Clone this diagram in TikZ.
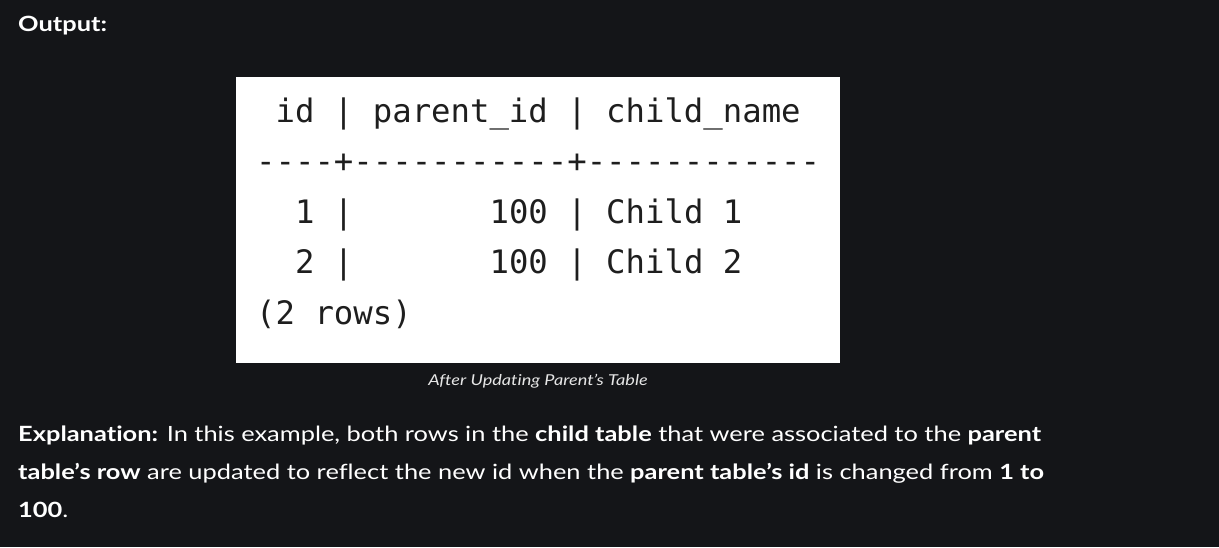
\documentclass[tikz,border=0pt]{standalone}
\usepackage{fontspec}
\setmainfont{Lato}[FakeStretch=1.21, Ligatures={NoCommon}]
\newfontfamily\codefont{DejaVu Sans Mono}
\definecolor{pagebg}{HTML}{141518}
\definecolor{pagetext}{HTML}{FFFFFF}
\definecolor{captext}{HTML}{E6E6E6}
\definecolor{codetext}{HTML}{1E1E1E}
\tikzset{
  textline/.style={anchor=base west, inner sep=0pt, text=pagetext, font=\fontsize{21}{24}\selectfont},
  codeline/.style={anchor=base west, inner sep=0pt, text=codetext, font=\codefont\fontsize{32.3}{36}\selectfont},
}
\begin{document}
\begin{tikzpicture}[x=1pt,y=-1pt]
                    % Page background
                    \fill [pagebg] (0,0) rectangle (1219,547);%
                    \useasboundingbox (0,0) rectangle (1219,547);%

                    % Marking heading
                    \node [textline, font=\bfseries\fontsize{21}{24}\selectfont] (heading) at (18,31) {Output:};%

                    % Drawing output box
                    \fill [white] (236,77) rectangle (840,363);%

                    % Marking header row
                    \node [codeline] (header) at (256,122) {\ id | parent\_id | child\_name};%

                    % Marking rule row
                    \node [codeline] (rule) at (256,172.5) {----+-----------+------------};%

                    % Marking row 1
                    \node [codeline] (rowa) at (256,223) {\ \ 1 |\ \ \ \ \ \ \ 100 | Child 1};%

                    % Marking row 2
                    \node [codeline] (rowb) at (256,273.5) {\ \ 2 |\ \ \ \ \ \ \ 100 | Child 2};%

                    % Marking row count
                    \node [codeline] (count) at (256,324) {(2 rows)};%

                    % Marking caption
                    \node [anchor=base, inner sep=0pt, text=captext, font=\itshape\fontsize{15}{18}\selectfont] (caption) at (538,385) {After Updating Parent’s Table};%

                    % Marking explanation lines
                    \node [textline] (linea) at (18,441) {\textbf{Explanation:} In this example, both rows in the \textbf{child table} that were associated to the \textbf{parent}};%
                    \node [textline] (lineb) at (18,479) {\textbf{table’s row} are updated to reflect the new id when the \textbf{parent table’s id} is changed from \textbf{1 to}};%
                    \node [textline] (linec) at (18,517) {\textbf{100}.};%
\end{tikzpicture}
\end{document}
